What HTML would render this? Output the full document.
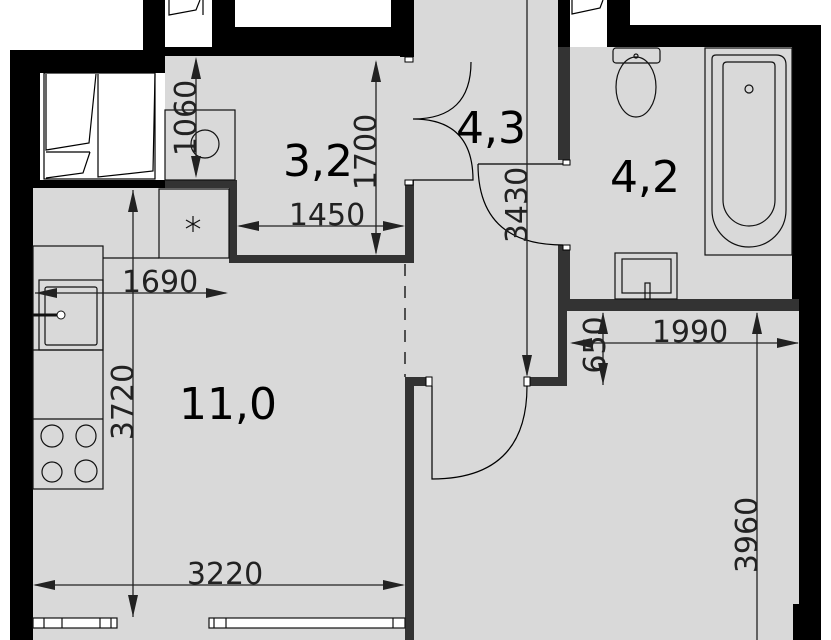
<!DOCTYPE html>
<html><head><meta charset="utf-8"><style>html,body{margin:0;padding:0;background:#fff;}svg{display:block}</style></head>
<body>
<svg width="831" height="640" viewBox="0 0 831 640" xmlns="http://www.w3.org/2000/svg" font-family="'DejaVu Sans','Liberation Sans',sans-serif">
<rect x="33" y="188" width="372" height="452" fill="#d9d9d9"/>
<rect x="165" y="56" width="240" height="200" fill="#d9d9d9"/>
<rect x="405" y="0" width="155" height="640" fill="#d9d9d9"/>
<rect x="560" y="47" width="240" height="593" fill="#d9d9d9"/>
<g fill="#000">
<rect x="10" y="50" width="155" height="23"/>
<rect x="10" y="50" width="30" height="138"/>
<rect x="10" y="188" width="23" height="452"/>
<rect x="40" y="180" width="125" height="8"/>
<rect x="143" y="0" width="22" height="73"/>
<rect x="165" y="47" width="47" height="9"/>
<rect x="212" y="0" width="200" height="56"/>
<rect x="400" y="0" width="14" height="57"/>
<rect x="558" y="0" width="12" height="47"/>
<rect x="607" y="0" width="23" height="47"/>
<rect x="607" y="25" width="214" height="22"/>
<rect x="792" y="25" width="29" height="275"/>
<rect x="799" y="300" width="22" height="340"/>
<rect x="793" y="604" width="28" height="36"/>
</g>
<rect x="235" y="0" width="156" height="27" fill="#fff"/>
<rect x="167" y="0" width="45" height="47" fill="#fff"/>
<rect x="570" y="0" width="37" height="40" fill="#fff"/>
<rect x="40" y="73" width="123" height="107" fill="#fff"/>
<g fill="none" stroke="#000" stroke-width="1.2">
<rect x="44" y="73" width="111" height="106"/>
<path d="M46,74 L46,150 L89,143 L96,74 M46,152 L90,152 M46,178 L83,173 L90,152 M98,74 L98,177 L153,171 L155,74"/>
<path d="M169,0 L169,15 L196,10 L200,0 M203,0 L203,15"/>
<path d="M572,0 L572,14 L600,8 L603,0"/>
</g>
<g fill="#333">
<rect x="165" y="180" width="72" height="8"/>
<rect x="229" y="180" width="8" height="83"/>
<rect x="229" y="255" width="185" height="8"/>
<rect x="405" y="180" width="9" height="83"/>
<rect x="558" y="47" width="12" height="113"/>
<rect x="558" y="245" width="12" height="60"/>
<rect x="558" y="299" width="241" height="12"/>
<rect x="558" y="300" width="9" height="86"/>
<rect x="527" y="377" width="40" height="9"/>
<rect x="405" y="377" width="9" height="263"/>
<rect x="405" y="377" width="22" height="9"/>
</g>
<g fill="#fff" stroke="#000" stroke-width="1">
<rect x="405" y="57" width="8" height="5"/>
<rect x="405" y="180" width="8" height="5"/>
<rect x="563" y="160" width="7" height="5"/>
<rect x="563" y="245" width="7" height="5"/>
<rect x="426" y="377" width="6" height="9"/>
<rect x="524" y="377" width="6" height="9"/>
</g>
<line x1="405" y1="264" x2="405" y2="377" stroke="#222" stroke-width="1.5" stroke-dasharray="12,10"/>
<g fill="none" stroke="#000" stroke-width="1.2">
<path d="M471,62 Q471,119 413,119 Q473,119 473,180 L413,180"/>
<path d="M478,164 L563,164 M478,164 Q478,245 563,245"/>
<path d="M432,386 L432,479 Q527,479 527,386"/>
</g>
<g fill="none" stroke="#111" stroke-width="1.2">
<rect x="33" y="246" width="70" height="243"/>
<line x1="33" y1="350" x2="103" y2="350"/>
<line x1="33" y1="419" x2="103" y2="419"/>
<rect x="39" y="280" width="64" height="70"/>
<rect x="45" y="287" width="52" height="58" rx="2"/>
<rect x="159" y="189" width="70" height="69"/>
<line x1="103" y1="258" x2="159" y2="258"/>
<ellipse cx="52" cy="436" rx="11" ry="11"/><ellipse cx="86" cy="436" rx="10" ry="11"/>
<ellipse cx="52" cy="472" rx="10" ry="10"/><ellipse cx="86" cy="471" rx="11" ry="11"/>
<rect x="165" y="110" width="70" height="70"/>
<circle cx="205" cy="144" r="14"/>
<rect x="33" y="618" width="84" height="10" fill="#fff"/>
<rect x="209" y="618" width="196" height="10" fill="#fff"/>
<path d="M44,618v10M62,618v10M100,618v10M111,618v10M214,618v10M226,618v10M393,618v10"/>
<path d="M193,216 v16 M186,220 l14,8 M186,228 l14,-8"/>
</g>
<line x1="33" y1="315" x2="57" y2="315" stroke="#111" stroke-width="3"/>
<circle cx="61" cy="315" r="4" fill="#fff" stroke="#111"/>
<g fill="none" stroke="#111" stroke-width="1.2">
<rect x="613" y="48" width="47" height="15" rx="3"/>
<circle cx="636" cy="56" r="2"/>
<ellipse cx="636" cy="87" rx="20" ry="30"/>
<rect x="705" y="48" width="87" height="207"/>
<path d="M716,55 L776,55 Q786,55 786,65 L786,210 A37,37 0 0 1 712,210 L712,59 Q712,55 716,55Z"/>
<path d="M727,62 L771,62 Q775,62 775,66 L775,200 A24,24 0 0 1 723,200 L723,66 Q723,62 727,62Z"/>
<circle cx="749" cy="89" r="4"/>
<rect x="615" y="253" width="62" height="46"/>
<rect x="622" y="259" width="49" height="34"/>
<rect x="645" y="283" width="5" height="16"/>
</g>
<g stroke="#222" stroke-width="1.3" fill="none">
<line x1="196" y1="60" x2="196" y2="175"/>
<line x1="376" y1="62" x2="376" y2="253"/>
<line x1="239" y1="226" x2="403" y2="226"/>
<line x1="35" y1="293" x2="226" y2="293"/>
<line x1="133" y1="190" x2="133" y2="617"/>
<line x1="35" y1="585" x2="403" y2="585"/>
<line x1="527" y1="0" x2="527" y2="375"/>
<line x1="603" y1="313" x2="603" y2="385"/>
<line x1="572" y1="343" x2="798" y2="343"/>
<line x1="757" y1="313" x2="757" y2="640"/>
</g>
<g fill="#222">
<path d="M196,57 l-5,22 h10z M196,178 l-5,-22 h10z"/>
<path d="M376,60 l-5,22 h10z M376,255 l-5,-22 h10z"/>
<path d="M237,226 l22,-5 v10z M405,226 l-22,-5 v10z"/>
<path d="M35,293 l22,-5 v10z M228,293 l-22,-5 v10z"/>
<path d="M133,190 l-5,22 h10z M133,617 l-5,-22 h10z"/>
<path d="M33,585 l22,-5 v10z M405,585 l-22,-5 v10z"/>
<path d="M527,377 l-5,-22 h10z"/>
<path d="M603,312 l-5,22 h10z M603,385 l-5,-22 h10z"/>
<path d="M570,343 l22,-5 v10z M799,343 l-22,-5 v10z"/>
<path d="M757,312 l-5,22 h10z"/>
</g>
<g fill="#222" font-size="30">
<text transform="translate(196,118) rotate(-90)" text-anchor="middle">1060</text>
<text transform="translate(376,152) rotate(-90)" text-anchor="middle">1700</text>
<text x="327" y="225" text-anchor="middle">1450</text>
<text x="160" y="292" text-anchor="middle">1690</text>
<text transform="translate(133,402) rotate(-90)" text-anchor="middle">3720</text>
<text x="225" y="584" text-anchor="middle">3220</text>
<text transform="translate(527,205) rotate(-90)" text-anchor="middle">3430</text>
<text transform="translate(605,345) rotate(-90)" text-anchor="middle">650</text>
<text x="690" y="342" text-anchor="middle">1990</text>
<text transform="translate(757,535) rotate(-90)" text-anchor="middle">3960</text>
</g>
<g fill="#000" font-size="44">
<text x="318" y="176" text-anchor="middle">3,2</text>
<text x="491" y="143" text-anchor="middle">4,3</text>
<text x="645" y="192" text-anchor="middle">4,2</text>
<text x="228" y="419" text-anchor="middle">11,0</text>
</g>
</svg>
</body></html>
